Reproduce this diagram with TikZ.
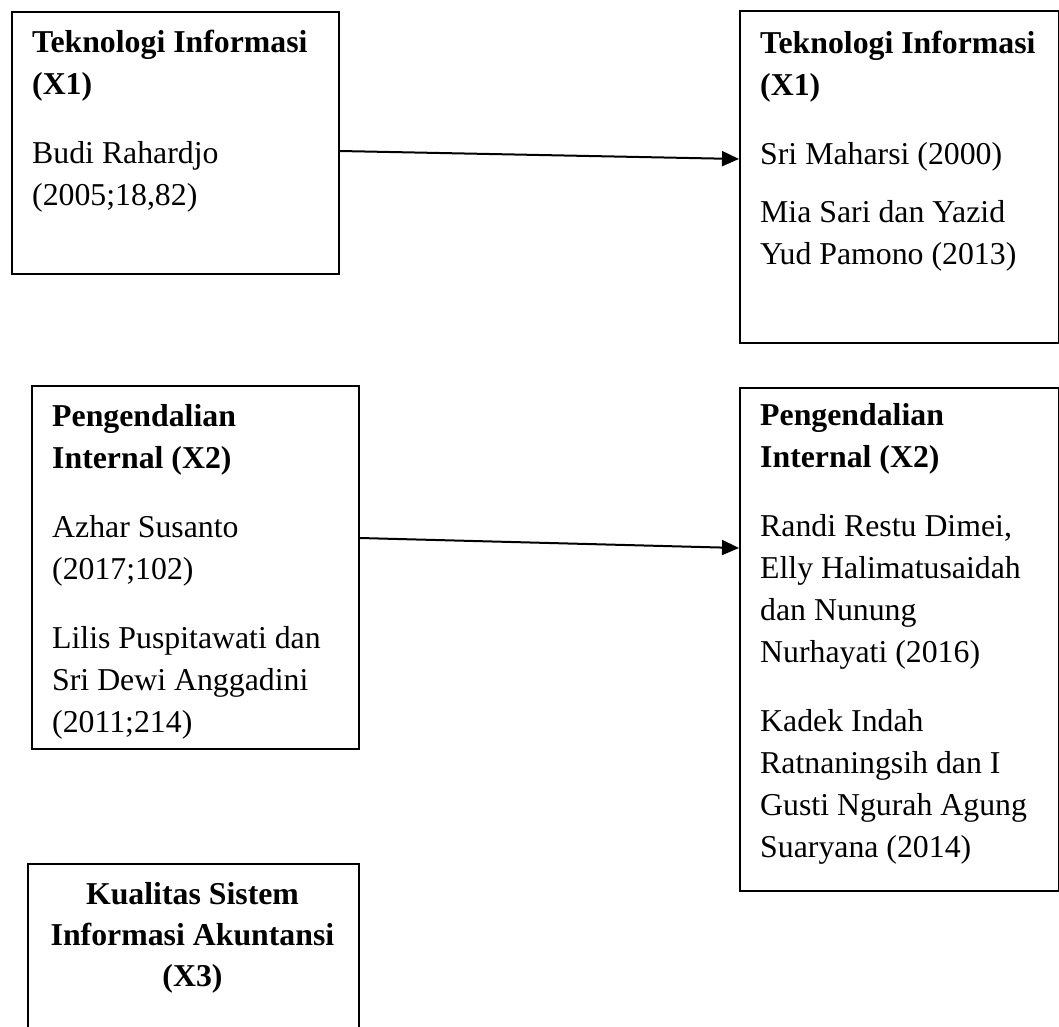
\documentclass[tikz,border=0pt]{standalone}
\usepackage{fontspec}
\setmainfont{Liberation Serif}
\usetikzlibrary{arrows.meta}
\begin{document}
\begin{tikzpicture}[x=1pt,y=-1pt,
  box/.style={draw=black, line width=2pt, rectangle, inner sep=0pt, anchor=north west},
  txt/.style={anchor=base west, inner sep=0pt, align=left, font=\fontsize{31.8}{42}\selectfont},
  ctxt/.style={anchor=base, inner sep=0pt, align=center, font=\fontsize{31.8}{41}\selectfont},
  arr/.style={line width=2pt, -{Triangle[length=17pt,width=15pt]}}]
\useasboundingbox (0,0) rectangle (1059,1026);
\fill[white] (0,0) rectangle (1059,1026);
% boxes
\node[box, minimum width=327pt, minimum height=262pt] (b1) at (11,11) {};
\node[box, minimum width=319pt, minimum height=332pt] (b2) at (739,10) {};
\node[box, minimum width=327pt, minimum height=363pt] (b3) at (31,385) {};
\node[box, minimum width=319pt, minimum height=503pt] (b4) at (739,387) {};
\node[box, minimum width=331pt, minimum height=177pt] (b5) at (27,863) {};
% texts (anchored at the baseline of their last line)
\node[txt] (t1) at (32,205) {\textbf{Teknologi Informasi}\\\textbf{(X1)}\\[27pt]Budi Rahardjo\\(2005;18,82)};
\node[txt] (t2) at (760,264) {\textbf{Teknologi Informasi}\\\textbf{(X1)}\\[27pt]Sri Maharsi (2000)\\[16pt]Mia Sari dan Yazid\\Yud Pamono (2013)};
\node[txt] (t3) at (52,732) {\textbf{Pengendalian}\\\textbf{Internal (X2)}\\[27pt]Azhar Susanto\\(2017;102)\\[27pt]Lilis Puspitawati dan\\Sri Dewi Anggadini\\(2011;214)};
\node[txt] (t4) at (760,857) {\textbf{Pengendalian}\\\textbf{Internal (X2)}\\[27pt]Randi Restu Dimei,\\Elly Halimatusaidah\\dan Nunung\\Nurhayati (2016)\\[27pt]Kadek Indah\\Ratnaningsih dan I\\Gusti Ngurah Agung\\Suaryana (2014)};
\node[ctxt] (t5) at (192.5,986) {\textbf{Kualitas Sistem}\\\textbf{Informasi Akuntansi}\\\textbf{(X3)}};
% arrows
\draw[arr] ([yshift=-140pt]b1.north east) -- ([yshift=-149pt]b2.north west);
\draw[arr] ([yshift=-153pt]b3.north east) -- ([yshift=-161pt]b4.north west);
\end{tikzpicture}
\end{document}
